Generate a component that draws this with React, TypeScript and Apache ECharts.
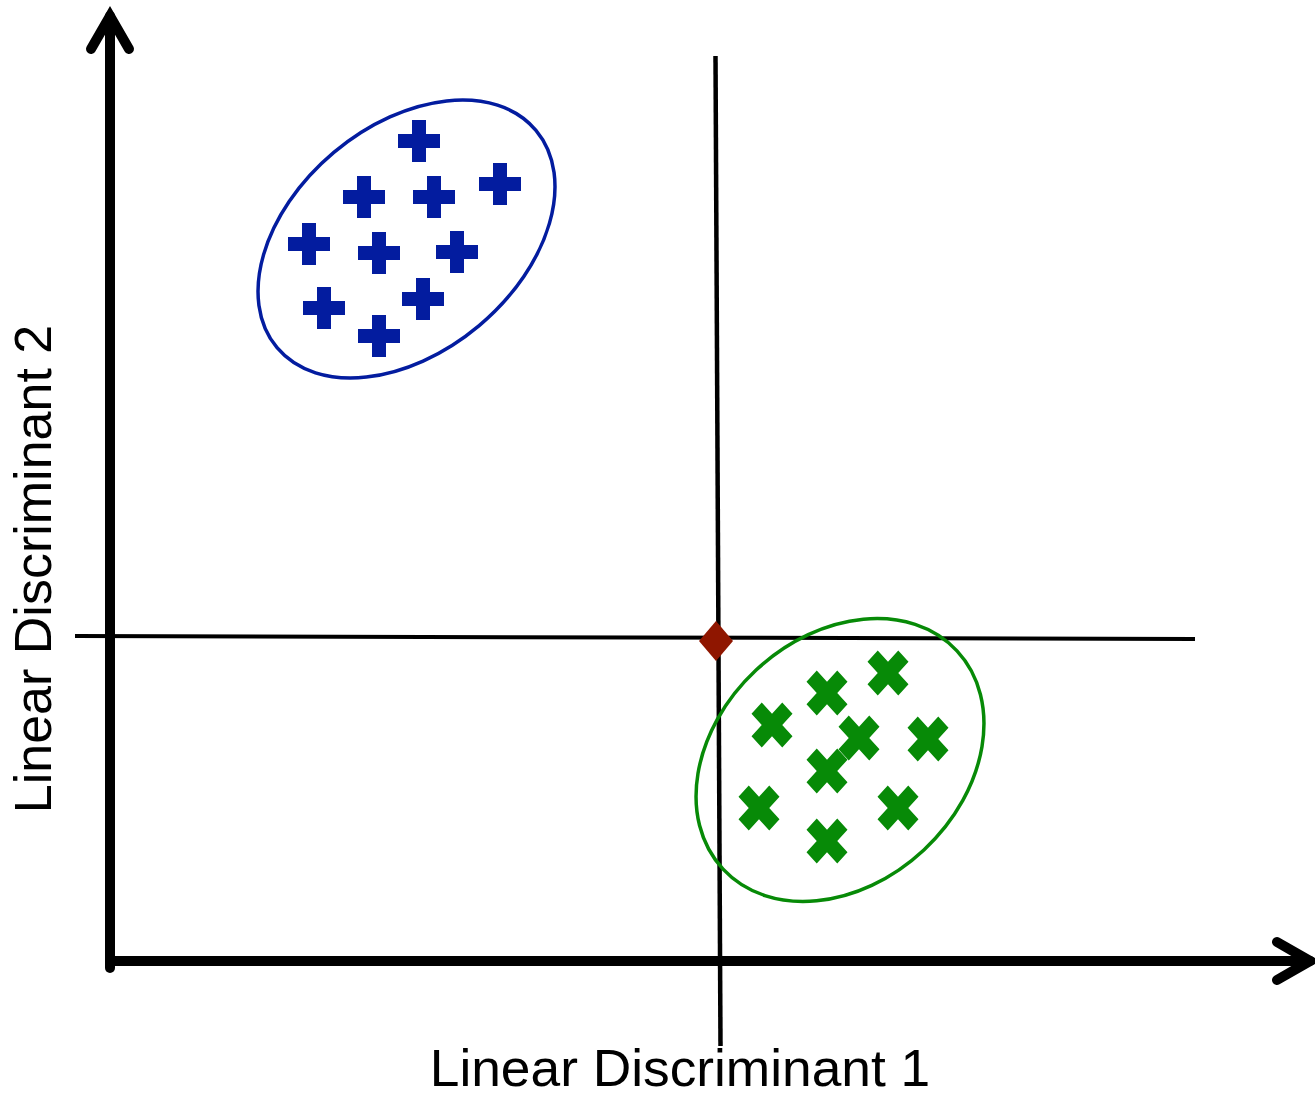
import React, { useEffect, useRef } from "react";
import * as echarts from "echarts";

// ---- data (LD1, LD2 units) ----
const classA: [number, number][] = [
  [3.09, 8.2],
  [2.54, 7.64],
  [3.24, 7.64],
  [3.9, 7.77],
  [1.99, 7.17],
  [2.69, 7.08],
  [3.47, 7.09],
  [2.14, 6.53],
  [3.13, 6.62],
  [2.69, 6.25],
];
const classB: [number, number][] = [
  [7.78, 2.88],
  [7.17, 2.68],
  [6.62, 2.36],
  [7.49, 2.23],
  [8.18, 2.22],
  [7.17, 1.9],
  [6.49, 1.53],
  [7.88, 1.53],
  [7.17, 1.2],
];
const centroid: [number, number][] = [[6.06, 3.2]];
// [x1, y1, x2, y2]
const ld1Line: number[] = [-0.35, 3.25, 10.85, 3.22];
const ld2Line: number[] = [6.055, 9.05, 6.105, -0.85];
// [centerX, centerY, semiMajor, semiMinor, angleDeg]
const ellipseA: number[] = [2.965, 7.22, 1.69, 1.13, 40];
const ellipseB: number[] = [7.3, 2.01, 1.6, 1.23, 43];
const axisTitles = ["Linear Discriminant 1", "Linear Discriminant 2"];

const BLUE = "#031C9F";
const GREEN = "#078A07";
const RED = "#8F1600";

const plusPath = "path://M1,0L2,0L2,1L3,1L3,2L2,2L2,3L1,3L1,2L0,2L0,1L1,1Z";
const crossPath = "path://M3,0L4,1L3,2L4,3L3,4L2,3L1,4L0,3L1,2L0,1L1,0L2,1Z";

// chevron arrow head (outline of a thick stroked chevron, tip up)
function chevron(along: number, half: number, t: number) {
  const h = t / 2;
  const L = Math.sqrt(half * half + along * along);
  const nx = along / L;
  const ny = -half / L;
  const tipY = -(h * L) / half;
  const innerY = (h * L) / half;
  const oR = [half + h * nx, along + h * ny];
  const iR = [half - h * nx, along - h * ny];
  const iL = [-(half - h * nx), along - h * ny];
  const oL = [-(half + h * nx), along + h * ny];
  const f = (v: number) => v.toFixed(3);
  const d =
    `path://M0,${f(tipY)}L${f(oR[0])},${f(oR[1])}` +
    `A${h},${h} 0 0 1 ${f(iR[0])},${f(iR[1])}` +
    `L0,${f(innerY)}L${f(iL[0])},${f(iL[1])}` +
    `A${h},${h} 0 0 1 ${f(oL[0])},${f(oL[1])}Z`;
  const W = 2 * (half + h);
  const H = along + h + (h * L) / half;
  const yc = (tipY + along + h) / 2;
  return { d, W, H, yc };
}

const arrow = chevron(33, 19, 10);

function axisLineCfg() {
  return {
    show: true,
    onZero: true,
    symbol: ["none", arrow.d],
    symbolSize: [arrow.W, arrow.H],
    symbolOffset: [0, -arrow.yc],
    lineStyle: { color: "#000", width: 10 },
  };
}

function ellipseSeries(e: number[], color: string) {
  return {
    type: "custom",
    coordinateSystem: "cartesian2d",
    data: [e],
    encode: { x: 0, y: 1 },
    clip: false,
    silent: true,
    z: 3,
    renderItem: (_p: any, api: any) => {
      const c = api.coord([api.value(0), api.value(1)]);
      const s = api.size([api.value(2), api.value(3)]);
      return {
        type: "ellipse",
        x: c[0],
        y: c[1],
        rotation: (api.value(4) * Math.PI) / 180,
        shape: { cx: 0, cy: 0, rx: s[0], ry: s[1] },
        style: { fill: "none", stroke: color, lineWidth: 3.5 },
      };
    },
  };
}

function segmentSeries(seg: number[], width: number) {
  return {
    type: "custom",
    coordinateSystem: "cartesian2d",
    data: [seg],
    encode: { x: [0, 2], y: [1, 3] },
    clip: false,
    silent: true,
    z: 2,
    renderItem: (_p: any, api: any) => {
      const a = api.coord([api.value(0), api.value(1)]);
      const b = api.coord([api.value(2), api.value(3)]);
      return {
        type: "line",
        shape: { x1: a[0], y1: a[1], x2: b[0], y2: b[1] },
        style: { stroke: "#000", lineWidth: width, fill: "none" },
      };
    },
  };
}

export default function App() {
  const ref = useRef<HTMLDivElement>(null);
  useEffect(() => {
    document.body.style.margin = "0";
    if (!ref.current) return;
    const chart = echarts.init(ref.current, null, { renderer: "svg" });
    const font = "'Liberation Sans', Arial, Helvetica, sans-serif";
    chart.setOption({
      animation: false,
      backgroundColor: "#fff",
      grid: { left: 110, right: 5, top: 16, bottom: 128 },
      xAxis: {
        type: "value",
        min: 0,
        max: 12,
        splitLine: { show: false },
        axisTick: { show: false },
        axisLabel: { show: false },
        axisLine: axisLineCfg(),
      },
      yAxis: {
        type: "value",
        min: -0.07,
        max: 9.45,
        splitLine: { show: false },
        axisTick: { show: false },
        axisLabel: { show: false },
        axisLine: axisLineCfg(),
      },
      graphic: [
        {
          type: "text",
          x: 680,
          y: 1068,
          scaleX: 1.025,
          style: {
            text: axisTitles[0],
            fontFamily: font,
            fontSize: 52,
            fill: "#000",
            align: "center",
            verticalAlign: "middle",
          },
        },
        {
          type: "text",
          x: 33,
          y: 569,
          rotation: Math.PI / 2,
          style: {
            text: axisTitles[1],
            fontFamily: font,
            fontSize: 52,
            fill: "#000",
            align: "center",
            verticalAlign: "middle",
          },
        },
      ],
      series: [
        segmentSeries(ld1Line, 4),
        segmentSeries(ld2Line, 4.5),
        ellipseSeries(ellipseA, BLUE),
        ellipseSeries(ellipseB, GREEN),
        {
          type: "scatter",
          data: classA,
          symbol: plusPath,
          symbolSize: 42,
          itemStyle: { color: BLUE, opacity: 1 },
          z: 4,
        },
        {
          type: "scatter",
          data: classB,
          symbol: crossPath,
          symbolSize: [41, 45],
          itemStyle: { color: GREEN, opacity: 1 },
          z: 4,
        },
        {
          type: "scatter",
          data: centroid,
          symbol: "diamond",
          symbolSize: [34, 40],
          itemStyle: { color: RED, opacity: 1 },
          z: 5,
        },
      ],
    });
    return () => chart.dispose();
  }, []);
  return <div ref={ref} style={{ width: 1315, height: 1096 }} />;
}
